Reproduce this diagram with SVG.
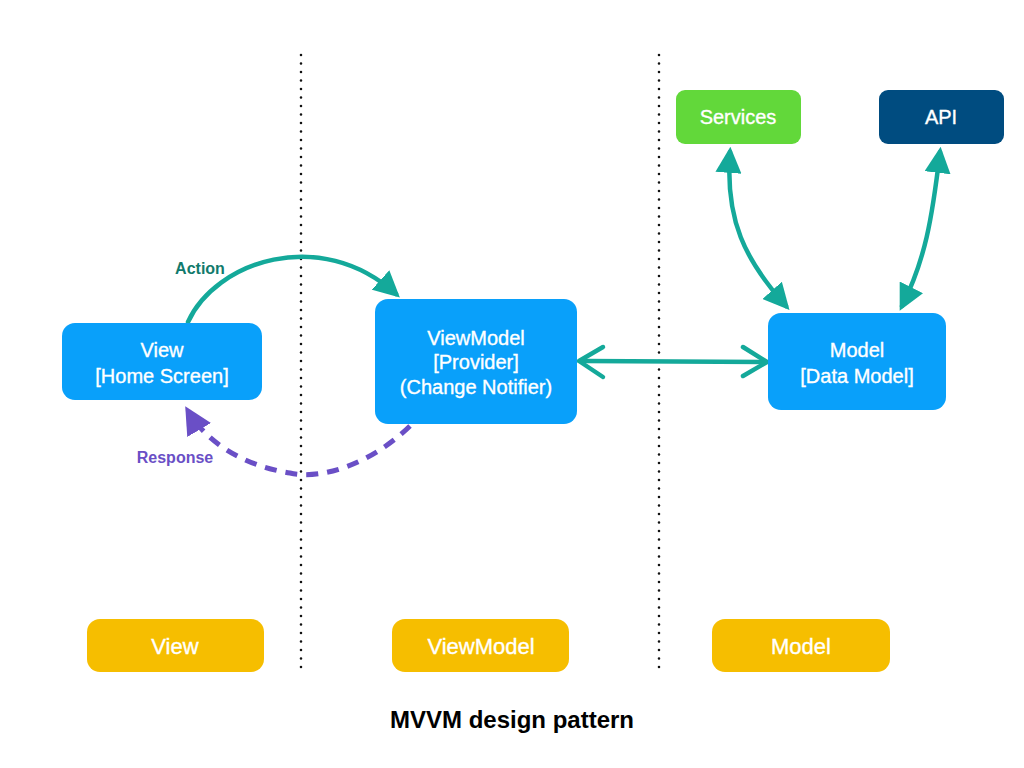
<svg xmlns="http://www.w3.org/2000/svg" width="1024" height="768" viewBox="0 0 1024 768">
<style>
.node{fill:#09a0fa}
.lane{fill:#f6be00}
.t{font-family:"Liberation Sans",Arial,sans-serif;font-size:20px;fill:#fff;text-anchor:middle;stroke:#fff;stroke-width:0.35}
.lt{font-size:22px}
.divider{stroke:#111;stroke-width:2.6;stroke-linecap:round;stroke-dasharray:0 8.5;fill:none}
.teal{stroke:#14a99a;stroke-width:4.5;fill:none;stroke-linecap:round;stroke-linejoin:round}
</style>
<defs>
<marker id="tri" viewBox="0 0 10 10" refX="8" refY="5" markerWidth="5.8" markerHeight="5.8" orient="auto-start-reverse" markerUnits="strokeWidth">
<path d="M0,0 L10,5 L0,10 Z" fill="#14a99a"/>
</marker>
<marker id="triP" viewBox="0 0 10 10" refX="8" refY="5" markerWidth="5.5" markerHeight="5.5" orient="auto" markerUnits="strokeWidth">
<path d="M0,0 L10,5 L0,10 Z" fill="#6a4fc6"/>
</marker>
</defs>
<rect width="1024" height="768" fill="#fff"/>
<g id="dividers">
<line class="divider" x1="301" y1="55" x2="301" y2="668"/>
<line class="divider" x1="659" y1="55" x2="659" y2="668"/>
</g>
<g id="connectors">
<path class="teal" d="M188,322 C215,262 320,225 396,294" marker-end="url(#tri)"/>
<path d="M410,426 C370,465 320,480 290,473 C240,465 205,440 188,411" fill="none" stroke="#6a4fc6" stroke-width="5" stroke-dasharray="12 9" marker-end="url(#triP)"/>
<path class="teal" d="M585,361 L765,362"/>
<path class="teal" d="M603,347 L579,361 L603,377"/>
<path class="teal" d="M743,347 L767,362 L743,376"/>
<path class="teal" d="M730,152 C725,220 745,260 786,306" marker-start="url(#tri)" marker-end="url(#tri)"/>
<path class="teal" d="M940,152 C932,220 925,260 902,306" marker-start="url(#tri)" marker-end="url(#tri)"/>
<text x="200" y="274" font-family="Liberation Sans,Arial,sans-serif" font-size="16" font-weight="bold" fill="#117a6c" text-anchor="middle">Action</text>
<text x="175" y="463" font-family="Liberation Sans,Arial,sans-serif" font-size="16" font-weight="bold" fill="#6a4fc6" text-anchor="middle">Response</text>
</g>
<g id="view">
<rect class="node" x="62" y="323" width="200" height="77" rx="13"/>
<text class="t" x="162" y="357">View</text>
<text class="t" x="162" y="383">[Home Screen]</text>
</g>
<g id="viewmodel">
<rect class="node" x="375" y="299" width="202" height="125" rx="13"/>
<text class="t" x="476" y="345">ViewModel</text>
<text class="t" x="476" y="369">[Provider]</text>
<text class="t" x="476" y="394">(Change Notifier)</text>
</g>
<g id="model">
<rect class="node" x="768" y="313" width="178" height="97" rx="13"/>
<text class="t" x="857" y="357">Model</text>
<text class="t" x="857" y="383">[Data Model]</text>
</g>
<g id="services">
<rect x="676" y="90" width="125" height="54" rx="9" fill="#62d83a"/>
<text class="t" x="738" y="124">Services</text>
</g>
<g id="api">
<rect x="879" y="90" width="125" height="54" rx="9" fill="#004c80"/>
<text class="t" x="941" y="124">API</text>
</g>
<g id="lane-view">
<rect class="lane" x="87" y="619" width="177" height="53" rx="13"/>
<text class="t lt" x="175" y="654">View</text>
</g>
<g id="lane-viewmodel">
<rect class="lane" x="392" y="619" width="177" height="53" rx="13"/>
<text class="t lt" x="481" y="654">ViewModel</text>
</g>
<g id="lane-model">
<rect class="lane" x="712" y="619" width="178" height="53" rx="13"/>
<text class="t lt" x="801" y="654">Model</text>
</g>
<text x="512" y="728" font-family="Liberation Sans,Arial,sans-serif" font-size="24" font-weight="bold" fill="#000" text-anchor="middle">MVVM design pattern</text>
</svg>
